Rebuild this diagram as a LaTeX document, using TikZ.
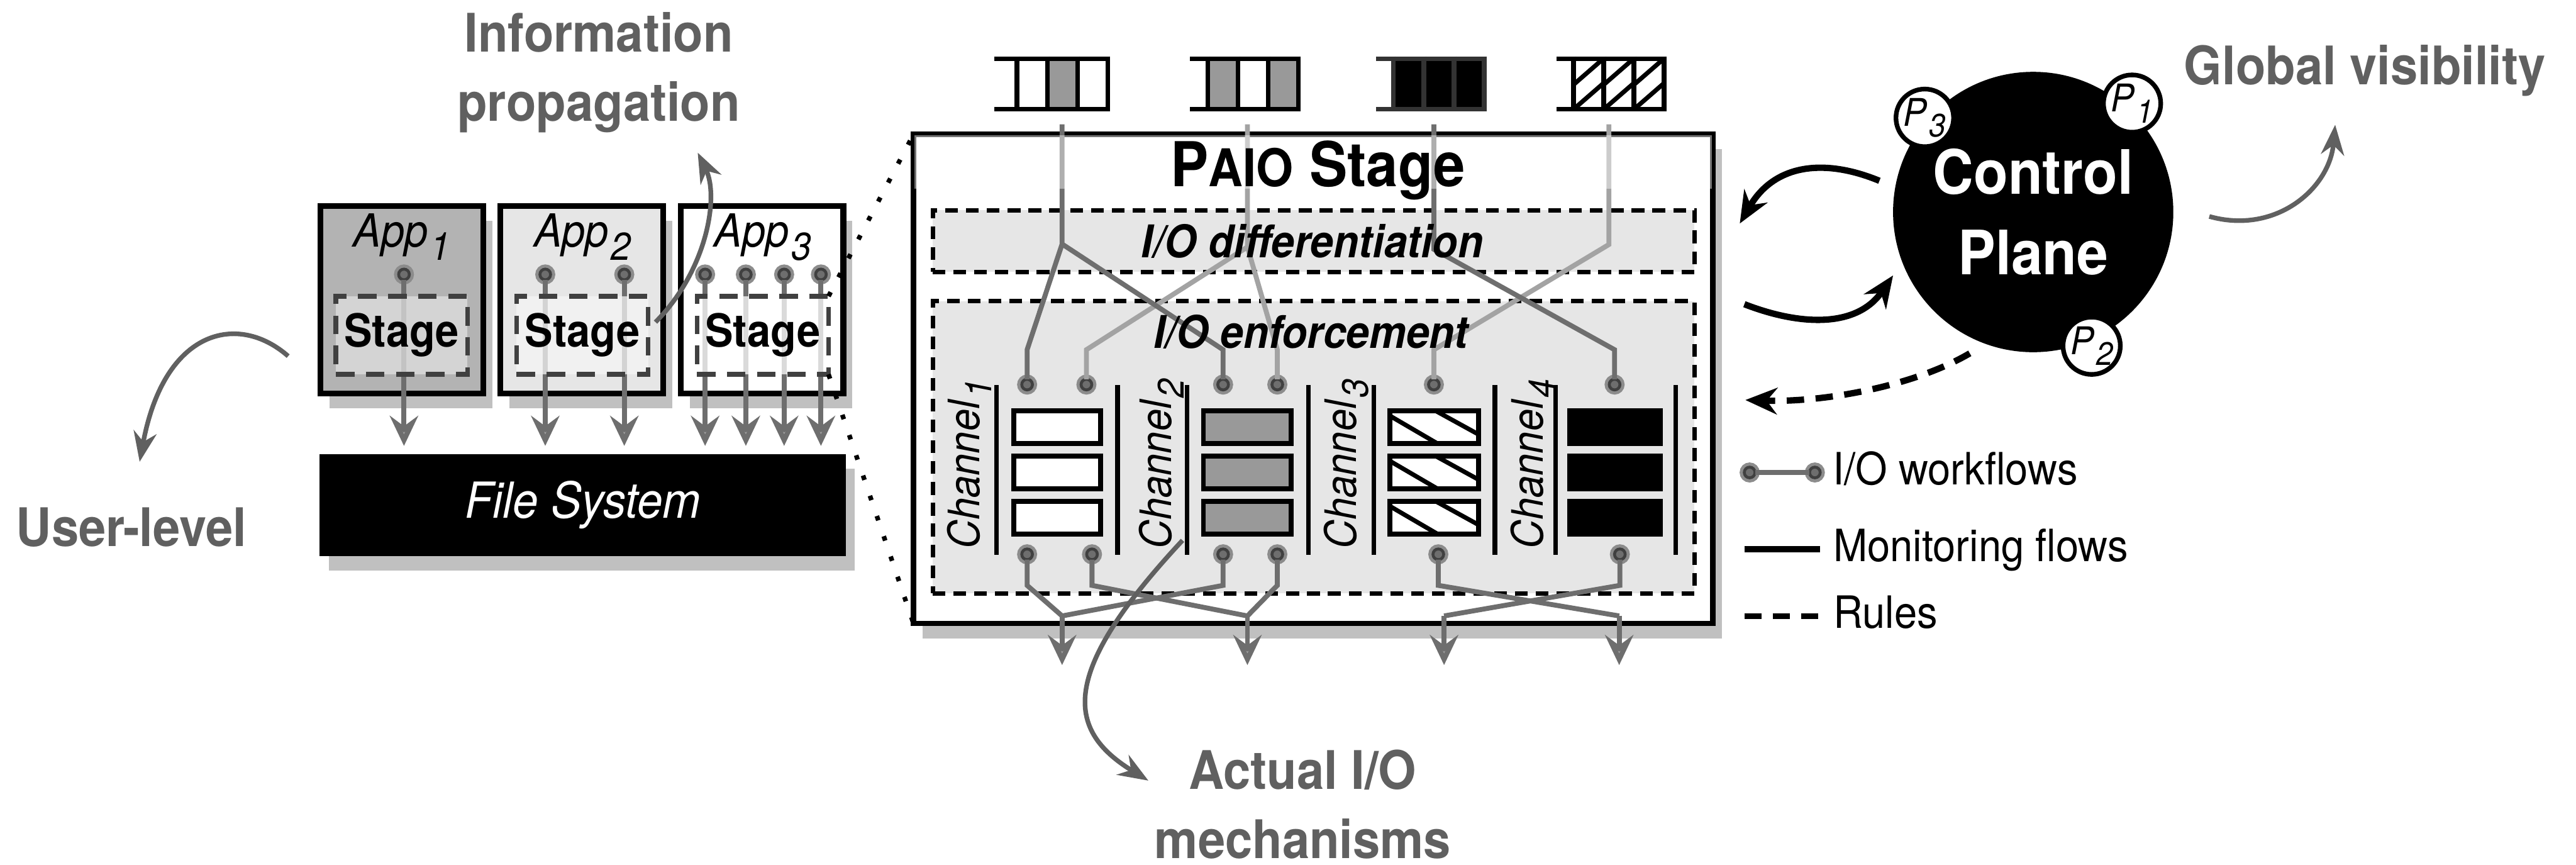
\documentclass[tikz,border=0pt]{standalone}
\usepackage{fontspec}
\setmainfont{TeX Gyre Heros}[FakeStretch=0.92]
\usepackage{tikz}
\usetikzlibrary{arrows.meta,shadows}
\definecolor{shadowgray}{HTML}{C0C0C0}
\definecolor{labelgray}{HTML}{606060}
\definecolor{appone}{HTML}{B3B3B3}
\definecolor{apptwo}{HTML}{E6E6E6}
\definecolor{stageone}{HTML}{E0E0E0}
\definecolor{stagetwo}{HTML}{F5F5F5}
\definecolor{boxgray}{HTML}{E6E6E6}
\definecolor{cellgray}{HTML}{999999}
\definecolor{flowdark}{HTML}{6E6E6E}
\definecolor{flowlight}{HTML}{A3A3A3}
\definecolor{icondark}{HTML}{333333}
\newcommand{\lsub}[1]{\kern0.4pt\raisebox{-.55ex}{\scalebox{.85}{#1}}}

\begin{document}
\begin{tikzpicture}[x=0.01cm,y=-0.01cm]
\tikzstyle{every node}=[inner sep=0pt,outer sep=0pt]
\tikzstyle{withshadow}=[drop shadow={shadow xshift=0.055cm,shadow yshift=-0.09cm,fill=shadowgray,opacity=1}]
\tikzstyle{lbl}=[text=labelgray,font=\fontsize{9.2}{12}\selectfont\bfseries]
\tikzstyle{lblarrow}=[draw=labelgray,line width=0.8pt,-{Stealth[length=5.2pt,width=4pt]}]
\tikzstyle{app}=[draw,line width=1pt,minimum width=0.99cm,minimum height=1.14cm,withshadow]
\tikzstyle{applbl}=[font=\fontsize{7.9}{9}\selectfont\itshape]
\tikzstyle{stagebox}=[draw=black!75,line width=0.8pt,dash pattern=on 3.2pt off 2pt,minimum width=0.8cm,minimum height=0.475cm,fill opacity=0.75,text opacity=1,font=\fontsize{7.9}{9}\selectfont\bfseries]
\tikzstyle{wflow}=[draw=flowdark,line width=0.85pt]
\tikzstyle{wflowl}=[draw=flowlight,line width=0.85pt]
\tikzstyle{wout}=[wflow,-{Stealth[length=5.2pt,width=4.9pt,inset=1.8pt,fill=flowlight]}]
\tikzstyle{wdot}=[circle,minimum size=0.065cm,fill=flowdark,draw=black!75,line width=0.5pt,preaction={draw=black!45,line width=1.6pt}]
\tikzstyle{zoomline}=[line width=0.8pt,dash pattern=on 0.8pt off 2.9pt]
\tikzstyle{iobox}=[draw,fill=boxgray,line width=0.75pt,dash pattern=on 2.2pt off 1.4pt,minimum width=4.634cm,minimum height=0.375cm]
\tikzstyle{iolbl}=[font=\fontsize{7.8}{9}\selectfont\bfseries\itshape]
\tikzstyle{qline}=[line width=0.82pt]
\tikzstyle{hatch}=[line width=0.77pt]
\tikzstyle{cellb}=[line width=0.85pt]
\tikzstyle{chlbl}=[rotate=90,font=\fontsize{7.5}{9}\selectfont\itshape]
\tikzstyle{ctrl}=[line width=1.1pt,-{Stealth[length=5.5pt,width=4.6pt,inset=1.8pt]}]
\tikzstyle{pcirc}=[circle,draw,fill=white,line width=0.8pt,minimum size=0.335cm,font=\fontsize{6.6}{8}\selectfont\itshape]
\tikzstyle{leg}=[anchor=base west,font=\fontsize{7.7}{9}\selectfont]
\useasboundingbox (0,0) rectangle (1568,526);

% side labels
\node[lbl,align=center](info) at (364.5,44){Information\\propagation};
\node[lbl](user) at (80,321){User-level};
\node[lbl](glob) at (1439.5,42.9){Global visibility};
\node[lbl,align=center](act) at (793,489.4){Actual I/O\\mechanisms};

% applications
\node[app,fill=appone](app1) at (244.6,182.3){};
\node[app,fill=apptwo](app2) at (354.2,182.3){};
\node[app,fill=white](app3) at (463.8,182.3){};
\node[applbl,anchor=base](al1) at (244.5,150.2){App\lsub{1}};
\node[applbl,anchor=base](al2) at (354.5,150.2){App\lsub{2}};
\node[applbl,anchor=base](al3) at (464.3,150.2){App\lsub{3}};
\node[fill=black,minimum width=3.2cm,minimum height=0.62cm,text=white,font=\fontsize{8.6}{10}\selectfont\itshape,withshadow](fs) at (354.75,307.35){File System};

\node[wdot](d1) at (245.9,167){};
\node[wdot](d2) at (331.9,167){};
\node[wdot](d3) at (380,167){};
\node[wdot](d4) at (429.2,167){};
\node[wdot](d5) at (454,167){};
\node[wdot](d6) at (477.3,167){};
\node[wdot](d7) at (499.7,167){};
\foreach \i in {1,...,7}\draw[wout,shorten >=0.05cm](d\i)--(d\i|-fs.north);

\node[stagebox,fill=stageone](st1) at (244.5,204){Stage};
\node[stagebox,fill=stagetwo](st2) at (354.5,204){Stage};
\node[stagebox,fill=white](st3) at (464.3,204){Stage};

\coordinate(ia) at (399,196);
\coordinate(ib) at (424.7,92.9);
\draw[lblarrow](ia) .. controls (430,165) and (438,120) .. (ib);
\coordinate(ua) at (175.4,216.7);
\coordinate(ub) at (85,281);
\draw[lblarrow](ua) .. controls (145,190) and (100,200) .. (ub);

% PAIO stage
\node[draw,fill=white,line width=0.9pt,minimum width=4.862cm,minimum height=2.976cm,withshadow](paio) at (799.3,230.6){};
\draw[zoomline](st3.north east)--(paio.north west);
\draw[zoomline](st3.south east)--(paio.south west);
\node[iobox](diff) at (799.6,146.65){};
\node[iobox,minimum height=1.778cm](enf) at (799.6,272.2){};

% queues on top
\fill[cellgray](637.5,35.8) rectangle (655.9,66.3);
\draw[qline](605.3,35.75)--(675.7,35.75) (605.3,66.35)--(675.7,66.35);
\foreach \x in {619.1,637.5,655.9,674.3}\draw[qline](\x,34.3)--(\x,67.8);
\fill[cellgray](735.2,35.8) rectangle (753.6,66.3) (772,35.8) rectangle (790.4,66.3);
\draw[qline](724.3,35.75)--(791.8,35.75) (724.3,66.35)--(791.8,66.35);
\foreach \x in {735.2,753.6,772,790.4}\draw[qline](\x,34.3)--(\x,67.8);
\fill[black](848.2,35.8) rectangle (903.4,66.3);
\draw[qline,icondark](837.5,35.75)--(904.8,35.75) (837.5,66.35)--(904.8,66.35);
\foreach \x in {848.2,866.6,885,903.4}\draw[qline,icondark](\x,34.3)--(\x,67.8);
\foreach \x in {957.8,976.2,994.6}\draw[hatch](\x,51.5)--(\x+18.4,35.5) (\x,66.5)--(\x+18.4,50.5);
\draw[qline](947.5,35.75)--(1014.4,35.75) (947.5,66.35)--(1014.4,66.35);
\foreach \x in {957.8,976.2,994.6,1013}\draw[qline](\x,34.3)--(\x,67.8);

% I/O workflows into the channels
\coordinate(kt) at (0,212.8);
\coordinate(kb) at (0,356.2);
\coordinate(c1) at (646.5,75.6);
\coordinate(c2) at (759.3,75.6);
\coordinate(c3) at (872.8,75.6);
\coordinate(c4) at (979.3,75.6);
\coordinate(s1) at (646.5,148.5);
\coordinate(s2) at (759.3,150.3);
\coordinate(s3) at (872.8,151.7);
\coordinate(s4) at (979.3,148.8);
\node[wdot](t1) at (625.2,234){};
\node[wdot](t2) at (661.3,234){};
\node[wdot](t3) at (744.5,234){};
\node[wdot](t4) at (777.5,234){};
\node[wdot](t5) at (872.8,234){};
\node[wdot](t6) at (982.8,234){};
\draw[wflowl](c2)--(s2)--(t2|-kt)--(t2) (s2)--(t4|-kt)--(t4);
\draw[wflowl](c4)--(s4)--(t5|-kt)--(t5);
\draw[wflow](c1)--(s1)--(t1|-kt)--(t1) (s1)--(t3|-kt)--(t3);
\draw[wflow](c3)--(s3)--(t6|-kt)--(t6);
\fill[white,opacity=0.45](556.7,82.2) rectangle (1041.9,115);
\node[font=\fontsize{10.7}{12}\selectfont\bfseries](ptitle) at (802.2,103.5){P{\fontsize{9}{9}\selectfont AIO} Stage};
\node[iolbl](difft) at (798.8,146.7){I/O differentiation};
\node[iolbl](enft) at (798,202){I/O enforcement};

% channels
\foreach \x in {606.5,680.2,722.6,796.5,836.3,909.9,946.8,1020}\draw[line width=0.8pt](\x,234.4)--(\x,337.7);
\foreach \y in {250,277.5,305}{
  \draw[cellb,fill=white](617,\y) rectangle (670,\y+20);
  \draw[cellb,fill=cellgray](732.5,\y) rectangle (786,\y+20);
  \fill[white](846,\y) rectangle (900,\y+20);
  \begin{scope}\clip(846,\y) rectangle (900,\y+20);
  \draw[hatch](846,\y+3)--(876,\y+20.5) (873,\y-0.5)--(903,\y+16);\end{scope}
  \draw[cellb](846,\y) rectangle (900,\y+20);
  \draw[cellb,fill=black](955.5,\y) rectangle (1010.5,\y+20);}
\node[chlbl](ch1) at (590,282.4){Channel\lsub{1}};
\node[chlbl](ch2) at (706.9,282.4){Channel\lsub{2}};
\node[chlbl](ch3) at (819.5,282.4){Channel\lsub{3}};
\node[chlbl](ch4) at (933,282.4){Channel\lsub{4}};

% I/O workflows out of the channels
\node[wdot](u1) at (625.2,337.3){};
\node[wdot](u2) at (664.7,337.3){};
\node[wdot](u3) at (744.5,337.3){};
\node[wdot](u4) at (777.5,337.3){};
\node[wdot](u5) at (875.5,337.3){};
\node[wdot](u6) at (986,337.3){};
\coordinate(m1) at (646.5,374.8);
\coordinate(m2) at (759.3,374.8);
\coordinate(m3) at (879,374.8);
\coordinate(m4) at (985.6,374.8);
\coordinate(o1) at (646.5,404.7);
\coordinate(o2) at (759.3,404.7);
\coordinate(o3) at (879,404.7);
\coordinate(o4) at (985.6,404.7);
\draw[wflow](u1)--(u1|-kb)--(m1) (u3)--(u3|-kb)--(m1);
\draw[wflow](u2)--(u2|-kb)--(m2) (u4)--(u4|-kb)--(m2);
\draw[wflow](u5)--(u5|-kb)--(m4) (u6)--(u6|-kb)--(m3);
\draw[wout](m1)--(o1);
\draw[wout](m2)--(o2);
\draw[wout](m3)--(o3);
\draw[wout](m4)--(o4);
\coordinate(aa) at (719.8,328.8);
\coordinate(ab) at (699,475);
\draw[lblarrow](aa) .. controls (645,409) and (648,443.8) .. (ab);

% control plane
\node[circle,fill=black,minimum size=1.705cm,align=center,text=white,font=\fontsize{10.6}{13.9}\selectfont\bfseries](cp) at (1237.6,129){Control\\Plane};
\node[pcirc](p1) at (1297.8,63){P\lsub{1}};
\node[pcirc](p2) at (1273.2,210.4){P\lsub{2}};
\node[pcirc](p3) at (1171.6,71.7){P\lsub{3}};
\coordinate(ca) at (1144,110);
\coordinate(cb) at (1059,136);
\draw[ctrl](ca) .. controls (1110,96) and (1080,100) .. (cb);
\coordinate(cc) at (1061.8,185.1);
\coordinate(cd) at (1152.3,167.6);
\draw[ctrl](cc) .. controls (1095,198) and (1130,200) .. (cd);
\coordinate(ce) at (1199,215);
\coordinate(cf) at (1062.4,243.4);
\draw[ctrl,dash pattern=on 3pt off 2pt](ce) .. controls (1165,235) and (1110,245) .. (cf);
\coordinate(ga) at (1344.8,131.7);
\coordinate(gb) at (1421.4,75.9);
\draw[lblarrow](ga) .. controls (1385,143) and (1418,115) .. (gb);

% legend
\node[wdot](k1) at (1065,287.5){};
\node[wdot](k2) at (1104.7,287.5){};
\draw[wflow](k1)--(k2);
\node[leg](kt1) at (1115.7,294.9){I/O workflows};
\coordinate(k3) at (1061.8,334.2);
\coordinate(k4) at (1108,334.2);
\draw[line width=1pt](k3)--(k4);
\node[leg](kt2) at (1116,341.5){Monitoring flows};
\coordinate(k5) at (1061.8,374.9);
\coordinate(k6) at (1108,374.9);
\draw[line width=1pt,dash pattern=on 3pt off 1.9pt](k5)--(k6);
\node[leg](kt3) at (1116,382.2){Rules};
\end{tikzpicture}
\end{document}
